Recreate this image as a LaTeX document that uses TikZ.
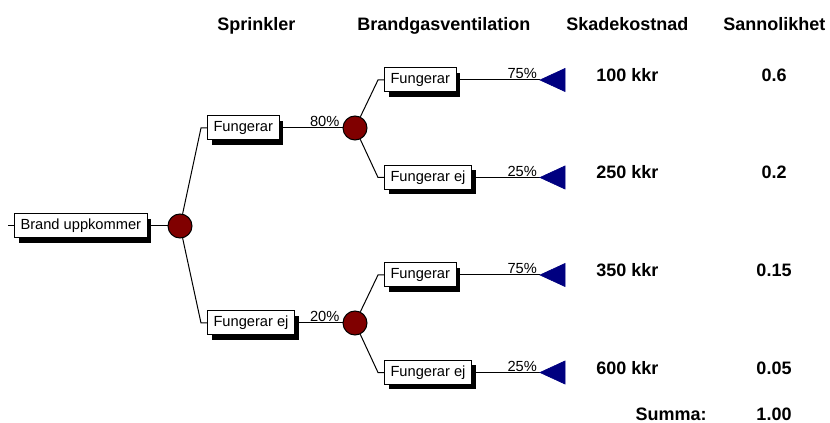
\documentclass[tikz,border=0pt]{standalone}
\usepackage{fontspec}
\setmainfont{Liberation Sans}
\usetikzlibrary{shadows,calc}
\definecolor{chancered}{HTML}{800000}
\definecolor{endnavy}{HTML}{000080}
\tikzset{
  evt/.style={draw, fill=white, line width=0.75pt, inner xsep=4.5pt, inner ysep=0pt,
    minimum height=18pt, anchor=west, font=\fontsize{11}{13}\selectfont,
    drop shadow={shadow xshift=3pt, shadow yshift=-3.5pt, fill=black, opacity=1}},
  chance/.style={circle, draw, fill=chancered, minimum size=18pt, inner sep=0pt, line width=0.75pt},
  pct/.style={anchor=south east, inner sep=0.6pt, font=\fontsize{11}{13}\selectfont},
  head/.style={anchor=base west, inner sep=0pt, font=\bfseries\fontsize{13.5}{16}\selectfont},
  val/.style={inner sep=0pt, font=\bfseries\fontsize{13.5}{16}\selectfont},
  conn/.style={line width=0.75pt},
  endtri/.style={fill=endnavy, draw=endnavy, line width=0.5pt, line join=miter}
}
\begin{document}
\begin{tikzpicture}[x=0.75pt,y=-0.75pt]
\useasboundingbox (0,0) rectangle (830,423);

% headers
\node[head] (h1) at (217,31) {Sprinkler};
\node[head] (h2) at (357,31) {Brandgasventilation};
\node[head] (h3) at (566,31) {Skadekostnad};
\node[head] (h4) at (723,31) {Sannolikhet};

% root
\coordinate (s0) at (8,226);
\node[evt] (b0) at (14,226) {Brand uppkommer};
\node[chance] (c1) at (180,226) {};
\draw[conn] (s0) -- (b0.west);
\draw[conn] (b0.east) -- (c1);

% sprinkler level
\node[evt] (b1) at (207,128) {Fungerar};
\node[evt] (b2) at (207,323) {Fungerar ej};
\coordinate (k1) at (201,128);
\coordinate (k2) at (201,323);
\draw[conn] (c1) -- (k1) -- (b1.west);
\draw[conn] (c1) -- (k2) -- (b2.west);

\node[chance] (c2) at (355,128) {};
\node[chance] (c3) at (355,323) {};
\draw[conn] (b1.east) -- (c2);
\draw[conn] (b2.east) -- (c3);
\node[pct] (p1) at ($(c2.west)+(-2,0)$) {80\%};
\node[pct] (p2) at ($(c3.west)+(-2,0)$) {20\%};

% ventilation level
\node[evt] (b3) at (384,80) {Fungerar};
\node[evt] (b4) at (384,177.5) {Fungerar ej};
\node[evt] (b5) at (384,275) {Fungerar};
\node[evt] (b6) at (384,372.5) {Fungerar ej};
\coordinate (k3) at (378,80);
\coordinate (k4) at (378,177.5);
\coordinate (k5) at (378,275);
\coordinate (k6) at (378,372.5);
\draw[conn] (c2) -- (k3) -- (b3.west);
\draw[conn] (c2) -- (k4) -- (b4.west);
\draw[conn] (c3) -- (k5) -- (b5.west);
\draw[conn] (c3) -- (k6) -- (b6.west);

% end nodes
\foreach \i/\y/\p in {3/80/75,4/177.5/25,5/275/75,6/372.5/25}{
  \coordinate (t\i) at (540,\y);
  \draw[conn] (b\i.east) -- (t\i);
  \node[pct] (q\i) at ($(t\i)+(-2,0)$) {\p\%};
  \draw[endtri] (t\i) -- ++(25,-11.5) -- ++(0,23) -- cycle;
}

% values
\node[val, anchor=base west] (v1) at (596,81.5) {100 kkr};
\node[val, anchor=base west] (v2) at (596,179) {250 kkr};
\node[val, anchor=base west] (v3) at (596,276.5) {350 kkr};
\node[val, anchor=base west] (v4) at (596,374) {600 kkr};
\node[val, anchor=base] (r1) at (774,81.5) {0.6};
\node[val, anchor=base] (r2) at (774,179) {0.2};
\node[val, anchor=base] (r3) at (774,276.5) {0.15};
\node[val, anchor=base] (r4) at (774,374) {0.05};
\node[val, anchor=base east] (sl) at (707,420) {Summa:};
\node[val, anchor=base] (sv) at (774,420) {1.00};
\end{tikzpicture}
\end{document}
